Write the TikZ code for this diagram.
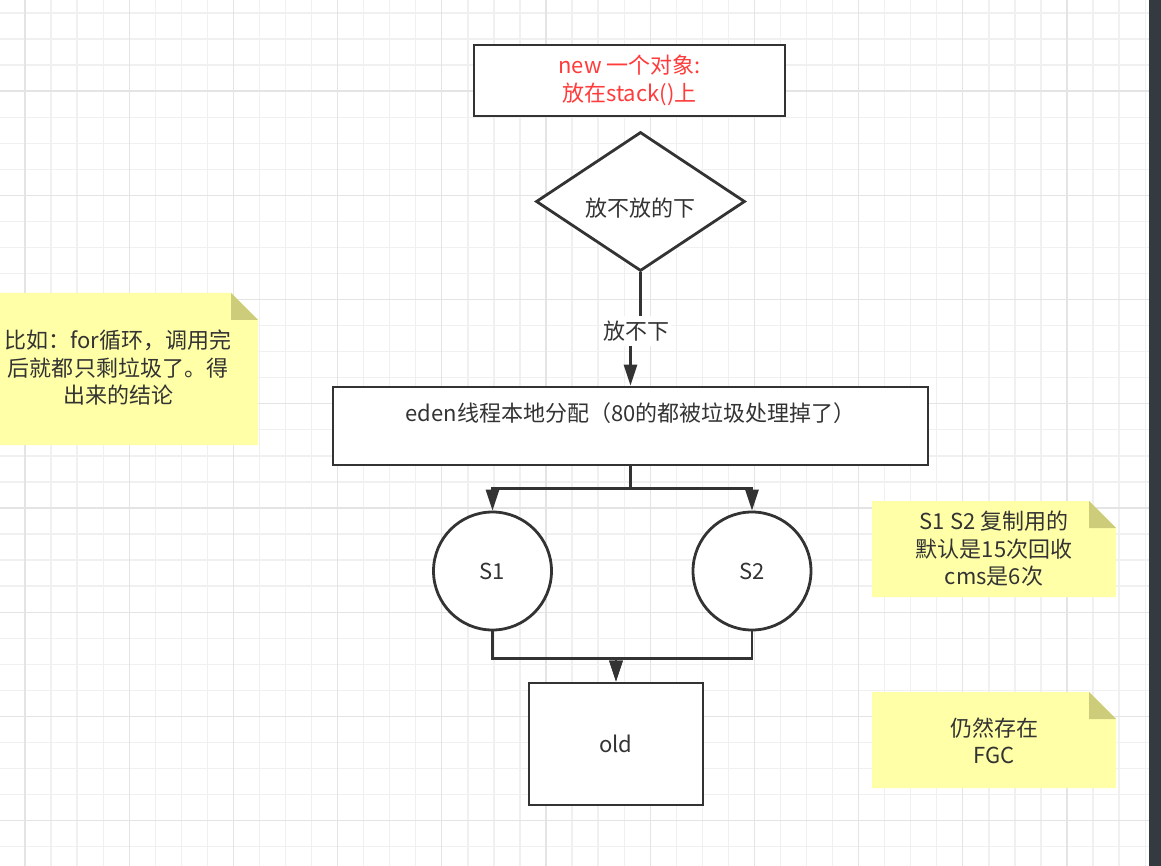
\documentclass[tikz,border=0pt]{standalone}
\usepackage{fontspec}
\setmainfont{Noto Sans CJK SC}
\usetikzlibrary{shapes.geometric,arrows.meta,calc}
\definecolor{ink}{HTML}{333333}
\definecolor{redtxt}{HTML}{FF3B3B}
\definecolor{notefill}{HTML}{FFFFA8}
\definecolor{notefold}{HTML}{CCCC7A}
\definecolor{gridminor}{HTML}{F0F0F0}
\definecolor{gridmajor}{HTML}{E4E4E4}
\definecolor{sidebar}{HTML}{343A40}
\begin{document}
\begin{tikzpicture}[x=1pt,y=-1pt,
  every node/.style={font=\fontsize{22}{27.5}\selectfont, text=ink, align=center},
  shapebox/.style={draw=ink, line width=2.8pt, fill=white, rectangle, inner sep=0pt},
  decision/.style={draw=ink, line width=2.8pt, fill=white, diamond, aspect=1.5, inner sep=0pt},
  pool/.style={draw=ink, line width=2.8pt, fill=white, circle, inner sep=0pt, minimum size=118pt},
  conn/.style={draw=ink, line width=2.8pt, -{Triangle[length=21pt,width=13pt]}},
  plainline/.style={draw=ink, line width=2.8pt},
  edgelabel/.style={fill=white, inner xsep=2pt, inner ysep=5pt},
  notebody/.style={fill=notefill},
  notecorner/.style={fill=notefold},
  minorline/.style={draw=gridminor, line width=1.3pt},
  majorline/.style={draw=gridmajor, line width=1.3pt}
]
\useasboundingbox (0,0) rectangle (1161,866);
\fill[white] (0,0) rectangle (1161,866);
% grid
\foreach \i in {0,...,43} \draw[minorline] ({25+26.05*\i},0) -- ({25+26.05*\i},866);
\foreach \j in {0,...,32} \draw[minorline] (0,{13+26.05*\j}) -- (1161,{13+26.05*\j});
\foreach \i in {0,4,...,40} \draw[majorline] ({25+26.05*\i},0) -- ({25+26.05*\i},866);
\foreach \j in {3,7,...,31} \draw[majorline] (0,{13+26.05*\j}) -- (1161,{13+26.05*\j});
% side bar
\fill[sidebar] (1149,0) rectangle (1161,866);

% nodes
\node[shapebox, minimum width=311pt, minimum height=71pt, text=redtxt] (start) at (629.5,80.5) {new 一个对象:\\放在stack()上};
\node[decision, minimum width=209pt, minimum height=139pt] (dia) at (640.5,201.5) {\strut\\[-14pt]放不放的下};
\node[shapebox, minimum width=595pt, minimum height=78pt] (eden) at (630.5,426) {eden线程本地分配（80的都被垃圾处理掉了）\\[-8pt]\strut};
\node[pool] (s1) at (492.5,571) {S1};
\node[pool] (s2) at (752,571) {S2};
\node[shapebox, minimum width=174pt, minimum height=122pt] (old) at (616,744) {old};
\node[edgelabel] (nl) at (636,331) {放不下};

% connectors
\draw[plainline] (dia.south) -- (nl.north -| dia.south);
\draw[conn] (nl.south -| eden.north) -- (eden.north);
\draw[conn] (eden.south) -- ++(0,22) -| (s1.north);
\draw[conn] (eden.south) -- ++(0,22) -| (s2.north);
\draw[conn] (s1.south) -- ++(0,27) -| (old.north);
\draw[conn] (s2.south) -- ++(0,27) -| (old.north);

% notes
\fill[notebody] (-2,293) -- (231,293) -- (258,320) -- (258,445) -- (-2,445) -- cycle;
\fill[notecorner] (231,293) -- (231,320) -- (258,320) -- cycle;
\node (note1) at (118,368) {比如：for循环，调用完\\后就都只剩垃圾了。得\\出来的结论};

\fill[notebody] (872,501) -- (1089,501) -- (1116,528) -- (1116,597) -- (872,597) -- cycle;
\fill[notecorner] (1089,501) -- (1089,528) -- (1116,528) -- cycle;
\node (note2) at (994,549) {S1 S2 复制用的\\默认是15次回收\\cms是6次};

\fill[notebody] (872,692) -- (1089,692) -- (1116,719) -- (1116,788) -- (872,788) -- cycle;
\fill[notecorner] (1089,692) -- (1089,719) -- (1116,719) -- cycle;
\node (note3) at (994,741) {仍然存在\\FGC};
\end{tikzpicture}
\end{document}
